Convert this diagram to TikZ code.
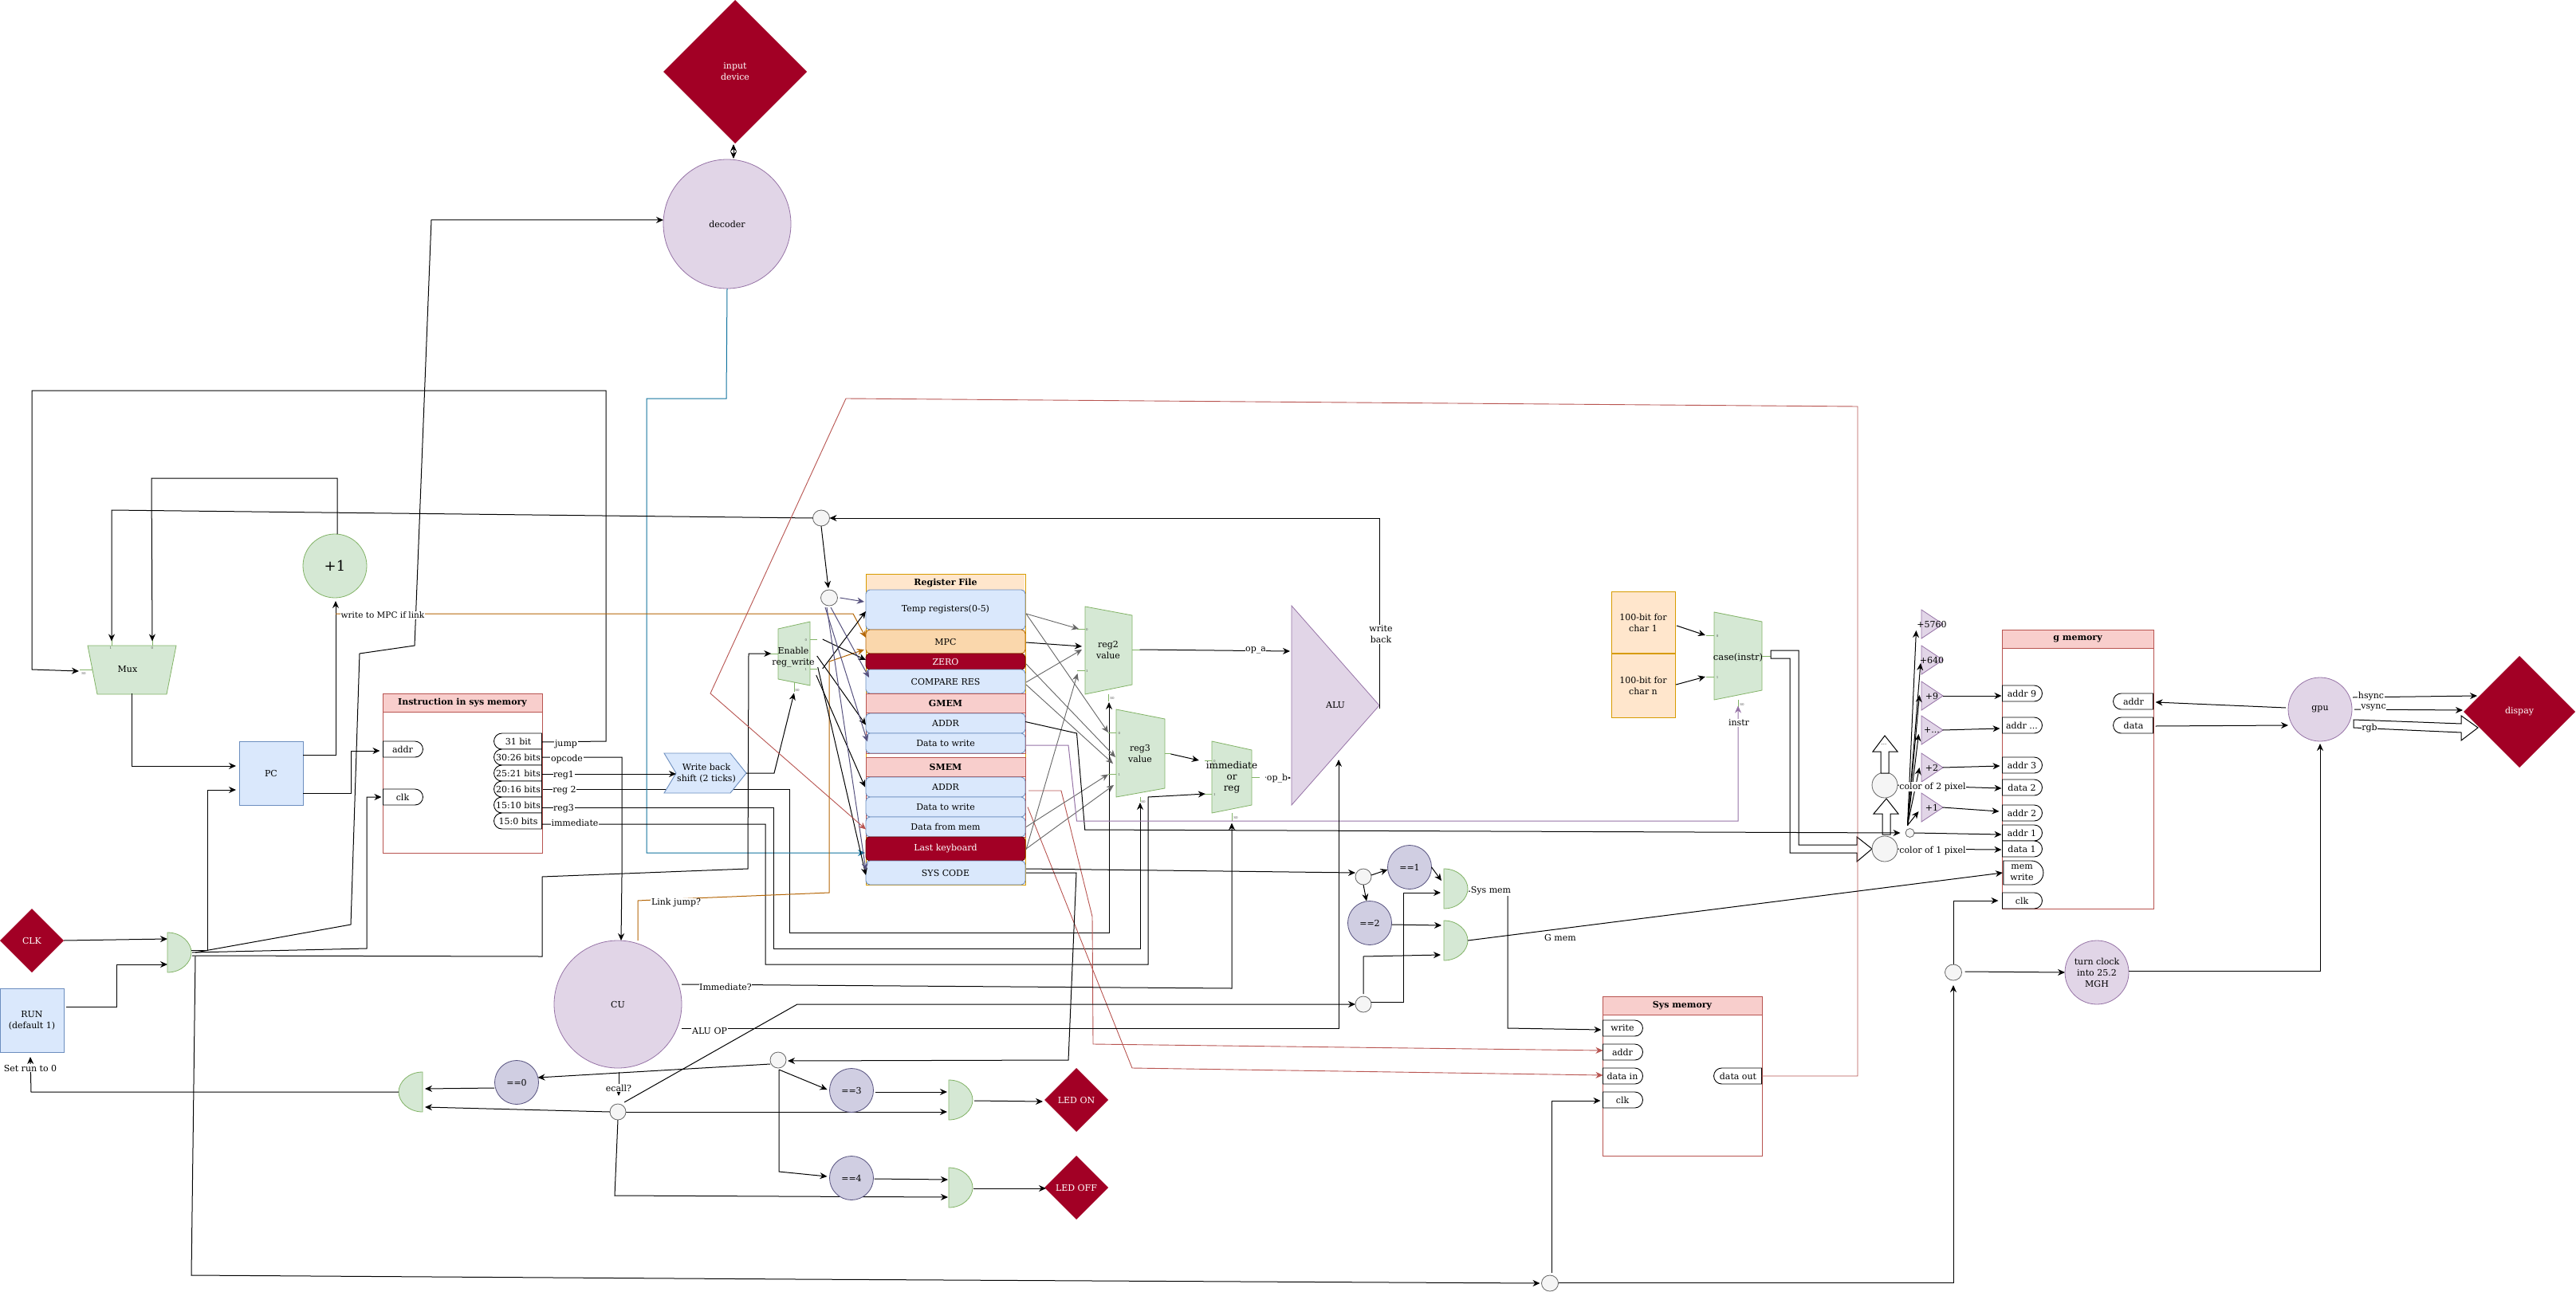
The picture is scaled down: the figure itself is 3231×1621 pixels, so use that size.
\documentclass[tikz,border=0pt]{standalone}
\usepackage{fontspec}
\setmainfont{DejaVu Serif}
\usetikzlibrary{arrows.meta,shapes.geometric,shapes.misc}
\pgfdeclarelayer{bg}\pgfsetlayers{bg,main}
\definecolor{gf}{HTML}{D5E8D4}\definecolor{gs}{HTML}{82B366}
\definecolor{bf}{HTML}{DAE8FC}\definecolor{bs}{HTML}{6C8EBF}
\definecolor{rf}{HTML}{F8CECC}\definecolor{rs}{HTML}{B85450}
\definecolor{of}{HTML}{FFE6CC}\definecolor{os}{HTML}{D79B00}
\definecolor{mf}{HTML}{FAD7AC}\definecolor{ms}{HTML}{B46504}
\definecolor{pf}{HTML}{E1D5E7}\definecolor{ps}{HTML}{9673A6}
\definecolor{df}{HTML}{D0CEE2}\definecolor{ds}{HTML}{56517E}
\definecolor{cf}{HTML}{F5F5F5}\definecolor{cs}{HTML}{666666}
\definecolor{wf}{HTML}{A20025}\definecolor{ws}{HTML}{6F0000}
\definecolor{tl}{HTML}{10739E}
\tikzset{
 sz/.style 2 args={minimum width=#1,minimum height=#2},
 o/.style 2 args={shift={(#1,#2)}},
 bluebox/.style={rectangle,draw=bs,fill=bf,line width=.9pt},
 bluerow/.style={rectangle,rounded corners=5pt,draw=bs,fill=bf,line width=.9pt,minimum width=200},
 darkrow/.style={rectangle,rounded corners=5pt,draw=ws,fill=wf,text=white,line width=.9pt,minimum width=200},
 redhead/.style={rectangle,draw=rs,fill=rf,line width=.9pt,font=\fontsize{11}{14}\selectfont\bfseries},
 redbody/.style={rectangle,draw=rs,fill=white,line width=.9pt},
 lport/.style={rounded rectangle,rounded rectangle west arc=none,draw=black,fill=white,line width=.9pt,align=center},
 rport/.style={rounded rectangle,rounded rectangle east arc=none,draw=black,fill=white,line width=.9pt,align=center},
 pcirc/.style={ellipse,draw=ps,fill=pf,line width=.8pt,align=center},
 dcirc/.style={ellipse,draw=ds,fill=df,line width=.8pt},
 gcirc/.style={ellipse,draw=cs,fill=cf,line width=.8pt},
 wdia/.style={diamond,aspect=1,fill=wf,draw=none,text=white},
 muxp/.style={draw=gs,fill=gf,line width=.8pt},
 triang/.style={draw=ps,fill=pf,line width=.8pt},
 stub/.style={draw=gs,line width=.8pt},
 txt/.style={align=center},
 tiny/.style={font=\fontsize{4}{5}\selectfont,text=black!70},
 lbl/.style={fill=white,inner sep=.6pt,align=center},
 tip/.style={-{Stealth[length=9pt,width=8pt]}},
 bk/.style={draw=black,line width=1pt,tip},
 gy/.style={draw=cs,line width=.9pt,tip},
 vi/.style={draw=ds,line width=1pt,tip},
 rd/.style={draw=rs,line width=.9pt,tip},
 og/.style={draw=ms,line width=1pt,tip},
 pu/.style={draw=ps,line width=1pt,tip},
 te/.style={draw=tl,line width=1pt,tip},
 hollow/.style={draw=black,fill=white,line width=1pt},
}
\newcommand{\gateD}[4]{\begin{scope}[shift={(#2,#3)},xscale=#4]
 \draw[muxp] (0,-25) .. controls (18,-25) and (30,-12) .. (30,0) .. controls (30,12) and (18,25) .. (0,25) -- cycle;
 \end{scope}\node[sz={30}{50}] (#1) at ({#2+15*#4},#3) {};}
\begin{document}
\begin{tikzpicture}[x=1pt,y=-1pt,inner sep=0pt,outer sep=0pt,font=\fontsize{11}{14}\selectfont]
\useasboundingbox (0,0) rectangle (3231,1621);
\begin{pgfonlayer}{bg}
\fill[white] (0,0) rectangle (3231,1621);
\end{pgfonlayer}
%% top
\node[wdia,sz={180}{180},align=center] (indev) at (922,90) {input\\device};
\node[pcirc,sz={160}{162}] (decoder) at (912,281) {decoder};
\node[ellipse,draw=gs,fill=gf,line width=.8pt,sz={80}{80},font=\fontsize{18}{22}\selectfont] (plus) at (420,710) {+1};
\node[gcirc,sz={21}{20}] (ctop) at (1030,650) {};
\node[gcirc,sz={21}{20}] (creg) at (1040,750) {};
%% Mux
\draw[muxp] (110,810) -- (221,810) -- (209,871) -- (122,871) -- cycle;
\node[sz={100}{60}] (mux) at (160,840) {Mux};
\draw[stub] (100,840) -- (116,840) (140,800) -- (140,810) (191,800) -- (191,810);
\node[tiny] (ma) at (139,813) {1}; \node[tiny] (mb) at (191,813) {0}; \node[tiny] (mc) at (105,845) {S0};
%% PC, run, clk
\node[bluebox,sz={80}{80}] (pc) at (340,970) {PC};
\node[wdia,sz={80}{80}] (clk) at (40,1180) {CLK};
\node[bluebox,sz={80}{80},align=center] (run) at (40,1280) {RUN\\(default 1)};
\gateD{g0}{210}{1195}{1}
\gateD{gz}{530}{1370}{-1}
%% Instruction
\node[redbody,sz={200}{200}] (imem) at (580,970) {};
\node[redhead,sz={200}{23}] (imh) at (580,882) {Instruction in sys memory};
\node[lport,sz={50}{20}] (iaddr) at (505,940) {addr};
\node[lport,sz={50}{20}] (iclk) at (505,1000) {clk};
\node[rport,sz={60}{20}] (p31) at (650,930) {31 bit};
\node[rport,sz={60}{20}] (p30) at (650,950) {30:26 bits};
\node[rport,sz={60}{20}] (p25) at (650,970) {25:21 bits};
\node[rport,sz={60}{20}] (p20) at (650,990) {20:16 bits};
\node[rport,sz={60}{20}] (p15) at (650,1010) {15:10 bits};
\node[rport,sz={60}{20}] (p13) at (650,1030) {15:0 bits};
%% write back
\draw[draw=bs,fill=bf,line width=.9pt] (833,945) -- (916,945) -- (936,970) -- (916,995) -- (833,995) -- (848,970) -- cycle;
\node[txt,sz={85}{50}] (wb) at (886,970) {Write back\\shift (2 ticks)};
%% Enable mux
\draw[muxp] (976,789) -- (1016,780) -- (1016,860) -- (976,852) -- cycle;
\node[txt,sz={40}{80}] (en) at (995,825) {Enable\\reg\_write};
\draw[stub] (965,820) -- (976,820) (1016,802) -- (1025,802) (1016,839) -- (1025,839) (996,856) -- (996,868);
\node[tiny] (ena) at (1011,803) {0}; \node[tiny] (enb) at (1011,840) {1}; \node[tiny] (enc) at (1000,866) {S0};
%% Register file
\node[rectangle,draw=os,fill=white,line width=.9pt,sz={200}{390}] (rf) at (1186,915) {};
\node[rectangle,draw=none,fill=of,sz={198}{24},font=\fontsize{11}{14}\selectfont\bfseries] (rfh) at (1186,732) {Register File};
\draw[os,line width=.9pt] (1086,720) -- (1286,720);
\node[redbody,sz={200}{75}] (gm) at (1186,907.5) {};
\node[redbody,sz={200}{100}] (sm) at (1186,1000) {};
\node[bluerow,minimum height=50] (temp) at (1186,765) {Temp registers(0-5)};
\node[rectangle,rounded corners=5pt,draw=ms,fill=mf,line width=.9pt,sz={200}{30}] (mpc) at (1186,805) {MPC};
\node[darkrow,minimum height=20] (zero) at (1186,830) {ZERO};
\node[bluerow,minimum height=30] (cmp) at (1186,855) {COMPARE RES};
\node[redhead,sz={200}{24}] (gh) at (1186,882) {GMEM};
\node[bluerow,minimum height=25] (gaddr) at (1186,907.5) {ADDR};
\node[bluerow,minimum height=25] (gdata) at (1186,932.5) {Data to write};
\node[redhead,sz={200}{24}] (sh) at (1186,962) {SMEM};
\node[bluerow,minimum height=25] (saddr) at (1186,987.5) {ADDR};
\node[bluerow,minimum height=25] (sdata) at (1186,1012.5) {Data to write};
\node[bluerow,minimum height=25] (sfrom) at (1186,1037.5) {Data from mem};
\node[darkrow,minimum height=30] (kbd) at (1186,1065) {Last keyboard};
\node[bluerow,minimum height=30] (sys) at (1186,1095) {SYS CODE};
%% reg2, reg3, imm
\draw[muxp] (1361,761) -- (1420,772) -- (1420,859) -- (1361,871) -- cycle;
\node[txt,sz={59}{110}] (reg2) at (1390,815) {reg2\\value};
\draw[stub] (1351,789) -- (1361,789) (1351,841) -- (1361,841) (1420,815) -- (1430,815) (1390,871) -- (1390,880);
\node[tiny] (r2a) at (1363.5,790) {0}; \node[tiny] (r2b) at (1363.5,842) {1}; \node[tiny] (r2c) at (1395,876) {S0};
\draw[muxp] (1400,890) -- (1461,902) -- (1461,989) -- (1400,1000) -- cycle;
\node[txt,sz={61}{110}] (reg3) at (1430,945) {reg3\\value};
\draw[stub] (1390,919) -- (1400,919) (1390,971) -- (1400,971) (1461,945) -- (1469,945) (1430,1000) -- (1430,1006);
\node[tiny] (r3a) at (1404,920) {0}; \node[tiny] (r3b) at (1404,972) {1}; \node[tiny] (r3c) at (1434,1006) {S0};
\draw[muxp] (1520,930) -- (1570,941) -- (1570,1010) -- (1520,1020) -- cycle;
\node[txt,sz={50}{90},font=\fontsize{12}{14}\selectfont] (imm) at (1545,975) {immediate\\or\\reg};
\draw[stub] (1511,954) -- (1520,954) (1511,996) -- (1520,996) (1570,975) -- (1580,975) (1545,1020) -- (1545,1030);
\node[tiny] (ima) at (1523.5,955) {0}; \node[tiny] (imb) at (1523.5,997) {1}; \node[tiny] (imc) at (1550,1026) {S0};
%% ALU
\draw[triang] (1620,760) -- (1730,885) -- (1620,1010) -- cycle;
\node[sz={110}{250}] (alu) at (1675,885) {ALU};
%% chars and case
\node[rectangle,draw=os,fill=of,line width=.9pt,sz={80}{77},align=center] (ch1) at (2061,781) {100-bit for\\char 1};
\node[rectangle,draw=os,fill=of,line width=.9pt,sz={80}{80},align=center] (chn) at (2061,860) {100-bit for\\char n};
\draw[muxp] (2150,768) -- (2210,780) -- (2210,866) -- (2150,878) -- cycle;
\node[txt,sz={60}{110},font=\fontsize{11.5}{14}\selectfont] (case) at (2180,825) {case(instr)};
\draw[stub] (2140,797) -- (2150,797) (2140,849) -- (2150,849) (2210,823) -- (2221,823) (2180,878) -- (2180,890);
\node[tiny] (caa) at (2154,798) {0}; \node[tiny] (cab) at (2154,850) {1}; \node[tiny] (cac) at (2185,884) {S0};
%% adders
\draw[triang] (2410,765) -- (2437,783) -- (2410,801) -- cycle; \node[sz={27}{36}] (a5760) at (2423,783) {+5760};
\draw[triang] (2410,810) -- (2437,828) -- (2410,846) -- cycle; \node[sz={27}{36}] (a640) at (2423,828) {+640};
\draw[triang] (2410,855) -- (2437,873) -- (2410,891) -- cycle; \node[sz={27}{36}] (a9) at (2423,873) {+9};
\draw[triang] (2410,898) -- (2437,916) -- (2410,934) -- cycle; \node[sz={27}{36}] (ad) at (2423,916) {+...};
\draw[triang] (2410,945) -- (2437,963) -- (2410,981) -- cycle; \node[sz={27}{36}] (a2) at (2423,963) {+2};
\draw[triang] (2410,995) -- (2437,1013) -- (2410,1031) -- cycle; \node[sz={27}{36}] (a1) at (2423,1013) {+1};
\node[gcirc,sz={11}{11}] (csm) at (2395.5,1045) {};
%% g memory
\node[redbody,sz={190}{350}] (gmem) at (2606,965) {};
\node[redhead,sz={190}{23}] (gmh) at (2606,802) {g memory};
\node[lport,sz={50}{20}] (ga9) at (2536,870) {addr 9};
\node[lport,sz={50}{20}] (gad) at (2536,910) {addr ...};
\node[lport,sz={50}{20}] (ga3) at (2536,960) {addr 3};
\node[lport,sz={50}{20}] (gd2) at (2536,988) {data 2};
\node[lport,sz={50}{20}] (ga2) at (2536,1020) {addr 2};
\node[lport,sz={50}{20}] (ga1) at (2536,1045) {addr 1};
\node[lport,sz={50}{20}] (gd1) at (2536,1065) {data 1};
\node[lport,sz={50}{30}] (gw) at (2536,1095) {mem\\write};
\node[lport,sz={50}{20}] (gc) at (2536,1130) {clk};
\node[rport,sz={50}{20}] (gra) at (2676,880) {addr};
\node[rport,sz={50}{20}] (grd) at (2676,910) {data};
\node[pcirc,sz={80}{80}] (gpu) at (2910,890) {gpu};
\node[wdia,sz={140}{140}] (dsp) at (3160,893) {dispay};
\node[pcirc,sz={80}{80}] (clk2) at (2630,1220) {turn clock\\into 25.2\\MGH};
\node[gcirc,sz={21}{20}] (cclk) at (2450,1220) {};
\node[gcirc,sz={21}{20}] (cbot) at (1944,1610) {};
%% CU side
\node[pcirc,sz={160}{160}] (cu) at (775,1260) {CU};
\node[dcirc,sz={55}{55}] (eq0) at (648,1358) {==0};
\node[gcirc,sz={20}{20}] (cec) at (775,1395) {};
\node[gcirc,sz={20}{20}] (csc) at (976,1330) {};
\node[dcirc,sz={55}{55}] (eq3) at (1068,1368) {==3};
\node[dcirc,sz={55}{55}] (eq4) at (1068,1478) {==4};
\gateD{g3}{1190}{1380}{1}
\gateD{g4}{1190}{1490}{1}
\node[wdia,sz={80}{80}] (ledon) at (1350,1380) {LED ON};
\node[wdia,sz={80}{80}] (ledoff) at (1350,1490) {LED OFF};
%% ==1, ==2
\node[gcirc,sz={20}{20}] (csy) at (1710,1100) {};
\node[gcirc,sz={20}{20}] (cs3) at (1710,1260) {};
\node[dcirc,sz={55}{55}] (eq1) at (1768,1088) {==1};
\node[dcirc,sz={55}{55}] (eq2) at (1718,1158) {==2};
\gateD{gs}{1811}{1115}{1}
\gateD{gg}{1811}{1180}{1}
%% sys memory
\node[redbody,sz={200}{200}] (smem) at (2110,1350) {};
\node[redhead,sz={200}{23}] (smh) at (2110,1261.5) {Sys memory};
\node[lport,sz={50}{20}] (sw) at (2035,1290) {write};
\node[lport,sz={50}{20}] (sa) at (2035,1320) {addr};
\node[lport,sz={50}{20}] (sd) at (2035,1350) {data in};
\node[lport,sz={50}{20}] (sc) at (2035,1380) {clk};
\node[rport,sz={60}{20}] (so) at (2180,1350) {data out};
%% hollow arrows
\draw[hollow] (2221,816) -- (2256,816) -- (2256,1060) -- (2329,1060) -- (2329,1050) -- (2348,1065) -- (2329,1081) -- (2329,1070) -- (2245,1070) -- (2245,826) -- (2221,826) -- cycle;
\node[gcirc,sz={32}{32}] (c1p) at (2364,1065) {};
\node[gcirc,sz={32}{32}] (c2p) at (2364,985) {};
\draw[hollow] (2361,1047) -- (2361,1021) -- (2350,1021) -- (2366,1002) -- (2381,1021) -- (2371,1021) -- (2371,1047) -- cycle;
\draw[hollow] (2359,970) -- (2359,943) -- (2349,943) -- (2364,923) -- (2380,943) -- (2369,943) -- (2369,970) -- cycle;
\node[tiny,font=\fontsize{7}{8}\selectfont,text=black] (dots) at (2363,934) {...};
\draw[hollow] (2952,903) -- (3087,908) -- (3087,898) -- (3108,913) -- (3087,929) -- (3087,919) -- (2952,913) -- cycle;
%% connectors behind shapes
\begin{pgfonlayer}{bg}
\draw[bk] (cec.south) -- (771,1500) -- ([o={-1}{12}]g4.west);
\draw[bk] (cec.east) -- ([o={-2}{15}]g3.west);
\draw[bk] ([o={0}{0}]p20.east) -- (990,990) -- (990,1170) -- (1391,1170) -- ([o={1}{11}]reg2.south);
\end{pgfonlayer}
%% connectors
\draw[bk,{Stealth[length=9pt,width=8pt]}-{Stealth[length=9pt,width=8pt]}] ([o={-2}{1}]indev.south) -- ([o={8}{-1}]decoder.north);
\draw[te] (decoder.south) -- (911,500) -- (811,500) -- (811,1070) -- ([o={-1}{5}]kbd.west);
\draw[bk] ([o={5}{0}]g0.east) -- (440,1160) -- (451,820) -- (520,810) -- (541,276) -- ([o={0}{-5}]decoder.west);
\draw[bk] (clk.east) -- ([o={0}{-17}]g0.west);
\draw[bk] ([o={3}{-17}]run.east) -- (146,1263) -- (146,1210) -- ([o={0}{15}]g0.west);
\draw[bk] ([o={0}{-3}]g0.east) -- (260,1192) -- (260,991) -- ([o={-4}{21}]pc.west);
\draw[bk] ([o={1}{0}]g0.east) -- (460,1190) -- (460,1000) -- ([o={-2}{0}]iclk.west);
\draw[bk] ([o={1}{4}]g0.east) -- (680,1200) -- (680,1100) -- (938,1090) -- (939,820) -- ([o={-1}{-5}]en.west);
\draw[bk] ([o={5}{5}]g0.east) -- (240,1600) -- (1000,1605) -- ([o={-2}{0}]cbot.west);
\draw[bk] ([o={0}{-23}]pc.east) -- (421,947) -- ([o={1}{4}]plus.south);
\draw[bk] ([o={0}{25}]pc.east) -- (440,995) -- (440,942) -- ([o={-4}{2}]iaddr.west);
\draw[bk] ([o={5}{0}]mux.south) -- (165,961) -- ([o={-4}{-9}]pc.west);
\draw[bk] ([o={3}{0}]plus.north) -- (423,600) -- (190,600) -- ([o={0}{-7}]mb.north);
\draw[bk] (ctop.west) -- (140,640) -- ([o={1}{-7}]ma.north);
\draw[bk] ([o={0}{1}]p31.east) -- (760,930) -- (760,490) -- (40,490) -- (40,840) -- ([o={-11}{2}]mux.west);
\draw[bk] ([o={0}{0}]p30.east) -- (780,950) -- (780,1100) -- ([o={4}{0}]cu.north);
\draw[bk] ([o={0}{1}]p25.east) -- ([o={-38}{1}]wb.center);
\draw[bk] ([o={0}{3}]p15.east) -- (970,1013) -- (970,1190) -- (1430,1190) -- ([o={0}{7}]reg3.south);
\draw[bk] ([o={0}{4}]p13.east) -- (960,1034) -- (960,1210) -- (1440,1210) -- (1440,1000) -- ([o={-1}{21}]imm.west);
\draw[bk] ([o={7.5}{0}]wb.east) -- (971,970) -- ([o={-4}{2}]enc.south);
\draw[og] ([o={1}{20}]plus.south) -- (1070,770) -- ([o={0}{-5}]mpc.west);
\draw[og] ([o={25}{0}]cu.north) -- (800,1130) -- (820,1129) -- (1040,1120) -- (1040,830) -- ([o={-2}{10}]mpc.west);
%% reg write lines
\draw[bk] ([o={10}{-23}]en.east) -- ([o={0}{-2}]zero.west);
\draw[bk] ([o={10}{14}]en.east) -- ([o={0}{2}]temp.west);
\draw[bk] ([o={3}{-2}]en.east) -- ([o={0}{2}]gaddr.west);
\draw[bk] ([o={2}{22}]en.east) -- ([o={-1}{0}]saddr.west);
\draw[bk] ([o={4}{12}]en.east) -- ([o={0}{3}]sys.west);
\draw[bk] (ctop.south) -- ([o={-1}{-2}]creg.north);
\draw[bk] ([o={0}{4}]alu.east) -- (1730,650) -- (ctop.east);
%% violet
\draw[vi] ([o={3}{0}]creg.east) -- ([o={-2}{-10}]temp.west);
\draw[vi] ([o={-5}{2}]creg.south) -- ([o={2}{-2}]gdata.west);
\draw[vi] ([o={2}{2}]creg.south) -- ([o={4}{-5}]cmp.west);
\draw[vi] ([o={-3}{2}]creg.south) -- ([o={0}{-3}]sys.west);
%% red
\draw[rd] (so.east) -- (2330,1350) -- (2330,510) -- (1061,500) -- (891,870) -- ([o={0}{3}]sfrom.west);
\draw[rd] ([o={4}{4.5}]saddr.east) -- (1331,992) -- (1370,1150) -- (1371,1310) -- ([o={0}{-2}]sa.west);
\draw[rd] ([o={3}{0}]sdata.east) -- (1420,1340) -- ([o={0}{-1}]sd.west);
%% gray
\draw[gy] ([o={1}{5}]temp.east) -- ([o={-7.5}{-26}]reg2.west);
\draw[bk] ([o={1}{1}]mpc.east) -- ([o={-33}{-4}]reg2.center);
\draw[gy] ([o={1}{1}]cmp.east) -- ([o={-33}{0}]reg2.center);
\draw[gy] ([o={1}{1}]kbd.east) -- ([o={-9}{30}]reg2.west);
\draw[gy] ([o={1}{5}]temp.east) -- ([o={-9.5}{-26}]reg3.west);
\draw[gy] ([o={1}{3}]zero.east) -- ([o={-31}{5}]reg3.center);
\draw[gy] ([o={1}{4}]cmp.east) -- ([o={-34}{13}]reg3.center);
\draw[gy] ([o={1}{0}]sfrom.east) -- ([o={-9.5}{26.5}]reg3.west);
\draw[gy] ([o={1}{0}]kbd.east) -- ([o={-33}{40}]reg3.center);
%% datapath to ALU
\draw[bk] ([o={10}{0}]reg2.east) -- ([o={-2}{-68}]alu.west);
\draw[bk] ([o={8}{1}]reg3.east) -- ([o={-9}{-21}]imm.west);
\draw[bk] ([o={10}{0}]imm.east) -- ([o={-1}{91}]alu.west);
%% gmem lines
\draw[bk] ([o={0}{-2}]gaddr.east) -- (1350.5,920) -- (1360.7,1041) -- ([o={-6.5}{0}]csm.west);
\draw[pu] ([o={1}{2.5}]gdata.east) -- (1340,935) -- (1350.5,1030) -- (2180,1030) -- ([o={0}{0}]cac.south -| case);
\draw[bk] ([o={1}{-5}]sys.east) -- ([o={0}{-5}]csy.west);
\draw[bk] ([o={1}{0}]sys.east) -- (1350,1095) -- (1340,1330) -- ([o={2}{1}]csc.east);
\draw[bk] ([o={0}{-2}]csy.east) -- ([o={0}{3}]eq1.west);
\draw[bk] (csy.south) -- ([o={-4}{0}]eq2.north);
\draw[bk] (eq1.east) -- ([o={-3}{-10}]gs.west);
\draw[bk] ([o={0}{2}]eq2.east) -- ([o={-3}{-19}]gg.west);
\draw[bk] ([o={1}{-5}]cec.north east) -- (1000,1260) -- (cs3.west);
\draw[bk] ([o={0}{-3}]cs3.east) -- (1760,1257) -- (1760,1120) -- ([o={-4}{5}]gs.west);
\draw[bk] ([o={0}{-3}]cs3.north) -- (1710,1200) -- ([o={-4}{18}]gg.west);
\draw[bk] ([o={1}{3}]gs.east) -- (1891,1118) -- (1891,1290) -- ([o={-2}{2}]sw.west);
\draw[bk] (gg.east) -- ([o={-1}{0}]gw.west);
%% CU lines
\draw[bk] ([o={0}{-25}]cu.east) -- (1545,1240) -- ([o={-5}{5}]imc.south);
\draw[bk] ([o={0}{30}]cu.east) -- (1679,1290) -- ([o={4}{68}]alu.center);
\draw[bk] ([o={1}{5}]cu.south) -- ([o={1}{-10}]cec.north);
\draw[bk] (cec.west) -- ([o={3}{19}]gz.east);
\draw[bk] ([o={0}{5}]csc.west) -- ([o={-1}{-6}]eq0.east);
\draw[bk] ([o={-28}{7}]eq0.center) -- ([o={3}{-4}]gz.east);
\draw[bk] (gz.west) -- (39,1370) -- ([o={-2}{6}]run.south);
\draw[bk] ([o={1}{2}]csc.south) -- ([o={-3}{-1}]eq3.west);
\draw[bk] ([o={1}{2}]csc.south) -- (977,1470) -- ([o={-3}{-2}]eq4.west);
\draw[bk] ([o={2}{2}]eq3.east) -- ([o={-2}{-10}]g3.west);
\draw[bk] ([o={1}{1}]eq4.east) -- ([o={-1}{-10}]g4.west);
\draw[bk] ([o={2}{1}]g3.east) -- ([o={-2}{2}]ledon.west);
\draw[bk] ([o={1}{1}]g4.east) -- ([o={2}{1}]ledoff.west);
%% chars
\draw[bk] ([o={2}{4}]ch1.east) -- ([o={-10}{-28}]case.west);
\draw[bk] ([o={1}{-1}]chn.east) -- ([o={-10}{24}]case.west);
%% addr lines
\draw[bk] ([o={-3}{-4}]csm.north) -- ([o={-3}{5}]a1.west);
\draw[bk] ([o={-3}{-4}]csm.north) -- ([o={-2}{0}]a2.west);
\draw[bk] ([o={-3}{-4}]csm.north) -- ([o={-3}{5}]ad.west);
\draw[bk] ([o={-3}{-4}]csm.north) -- ([o={-2}{-1}]a9.west);
\draw[bk] ([o={-3}{-4}]csm.north) -- ([o={1}{4}]a640.west);
\draw[bk] ([o={-3}{-4}]csm.north) -- ([o={-1}{8}]a5760.west);
\draw[bk] (a9.east) -- ([o={-1}{3}]ga9.west);
\draw[bk] (ad.east) -- ([o={-3}{4}]gad.west);
\draw[bk] (a2.east) -- ([o={-3}{1}]ga3.west);
\draw[bk] (a1.east) -- ([o={-4}{-2}]ga2.west);
\draw[bk] (csm.east) -- ([o={-1}{2}]ga1.west);
\draw[bk] (c1p.east) -- ([o={-1}{1}]gd1.west);
\draw[bk] (c2p.east) -- ([o={-1}{1}]gd2.west);
\draw[bk] ([o={-3}{-2}]gpu.west) -- ([o={3}{1}]gra.east);
\draw[bk] ([o={3}{1}]grd.east) -- ([o={0}{20}]gpu.west);
\draw[bk] ([o={1}{-15}]gpu.east) -- ([o={-53}{-20}]dsp.center);
\draw[bk] ([o={3}{0}]gpu.east) -- ([o={-1}{-2}]dsp.west);
\draw[bk] ([o={4}{-1}]cclk.east) -- (clk2.west);
\draw[bk] ([o={0}{-2}]clk2.east) -- (2910,1218) -- ([o={0}{3}]gpu.south);
\draw[bk] (cclk.north) -- (2450,1130) -- ([o={-5}{0}]gc.west);
\draw[bk] ([o={2}{-3}]cbot.north) -- (1946,1381) -- ([o={-3}{1}]sc.west);
\draw[bk] ([o={0}{-1}]cbot.east) -- (2450,1609) -- ([o={0}{6}]cclk.south);
%% labels
\node[lbl,font=\fontsize{10.5}{14}\selectfont] (l1) at (480,772) {write to MPC if link};
\node[lbl] (l2) at (710,934) {jump};
\node[lbl] (l3) at (711,952) {opcode};
\node[lbl] (l4) at (707,973) {reg1};
\node[lbl] (l5) at (708,992) {reg 2};
\node[lbl] (l6) at (707,1015) {reg3};
\node[lbl] (l7) at (721,1032) {immediate};
\node[lbl] (l8) at (848,1133) {Link jump?};
\node[lbl] (l9) at (910,1238) {Immediate?};
\node[lbl] (l10) at (890,1293) {ALU OP};
\node[lbl] (l11) at (776,1365) {ecall?};
\node[lbl] (l12) at (38,1340) {Set run to 0};
\node[lbl] (l13) at (1575,816) {op\_a};
\node[lbl] (l14) at (1602,977) {op\_b};
\node[lbl] (l15) at (1732,796) {write\\back};
\node[lbl] (l16) at (2181,907) {instr};
\node[lbl] (l17) at (1870,1118) {Sys mem};
\node[lbl] (l18) at (1957,1176) {G mem};
\node[lbl] (l19) at (2424,1067) {color of 1 pixel};
\node[lbl] (l20) at (2424,987) {color of 2 pixel};
\node[lbl] (l21) at (2974,874) {hsync};
\node[lbl] (l22) at (2977,888) {vsync};
\node[lbl] (l23) at (2972,914) {rgb};
\end{tikzpicture}
\end{document}
